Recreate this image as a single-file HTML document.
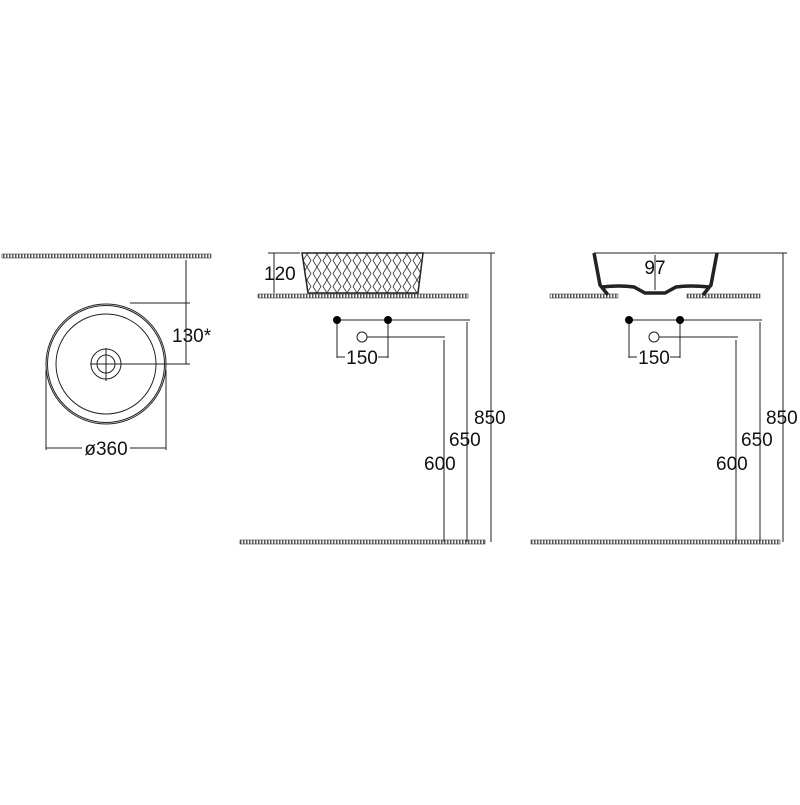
<!DOCTYPE html><html><head><style>body{margin:0;background:#fff}</style></head><body>
<svg width="800" height="800" xmlns="http://www.w3.org/2000/svg" font-family="Liberation Sans, sans-serif">
<defs><pattern id="h" width="3" height="4" patternUnits="userSpaceOnUse"><rect width="3" height="4" fill="#fff"/><rect width="1.5" height="4" fill="#555"/></pattern>
<pattern id="d" width="10" height="13" patternUnits="userSpaceOnUse" x="302" y="254"><path d="M5 0 L9 6.5 L5 13 L1 6.5 Z" fill="none" stroke="#333" stroke-width="0.8"/></pattern></defs>
<g fill="url(#h)" stroke="#444" stroke-width="0.6">
<rect x="2" y="254" width="209" height="4"/>
<rect x="258" y="294" width="210" height="4"/>
<rect x="240" y="540" width="245" height="4"/>
<rect x="550" y="294" width="68" height="4"/>
<rect x="687" y="294" width="73" height="4"/>
<rect x="531" y="540" width="249" height="4"/>
</g>
<g fill="none" stroke="#222" stroke-width="1">
<circle cx="106" cy="364" r="60"/>
<circle cx="106" cy="364" r="58.5"/>
<circle cx="106" cy="364" r="50"/>
<circle cx="106" cy="364" r="15"/>
<circle cx="106" cy="364" r="9"/>
<path d="M90 364H190M106 348V381M186 260V364M130 303H190M46 370V450M166 370V450M46 448H82M130 448H166"/>
<path d="M302 253H423L418 293H308Z" fill="url(#d)" stroke-width="1.5"/>
<path d="M274 253V293M268 253H300M423 253H495M337 320V358M388 320V358M337 320H470M362 337H445M337 357H345M378 357H388M444 340V542M467 322V542M491 253V542"/>
<path d="M594 253H717"/>
<path d="M594 253L600 285L608 295M717 253L711 285L703 295" stroke-width="3.5"/>
<path d="M602 287Q620 285 634 287L645 293L665 293L676 287Q690 285 709 287" stroke-width="3.5"/>
<path d="M655 255V290M717 253H787M629 320V358M680 320V358M629 320H762M654 337H738M629 357H637M670 357H680M736 340V542M760 322V542M783 253V542"/>
</g>
<circle cx="362" cy="337" r="5" fill="#fff" stroke="#222"/>
<circle cx="654" cy="337" r="5" fill="#fff" stroke="#222"/>
<g fill="#000"><circle cx="337" cy="320" r="4"/><circle cx="388" cy="320" r="4"/><circle cx="629" cy="320" r="4"/><circle cx="680" cy="320" r="4"/></g>
<g font-size="19" fill="#111">
<text x="172" y="342">130*</text>
<text x="106" y="455" text-anchor="middle">ø360</text>
<text x="264" y="280">120</text>
<text x="362" y="364" text-anchor="middle">150</text>
<text x="654" y="364" text-anchor="middle">150</text>
<text x="655" y="274" text-anchor="middle">97</text>
<text x="424" y="470">600</text>
<text x="449" y="446">650</text>
<text x="474" y="424">850</text>
<text x="716" y="470">600</text>
<text x="741" y="446">650</text>
<text x="766" y="424">850</text>
</g>
</svg></body></html>
